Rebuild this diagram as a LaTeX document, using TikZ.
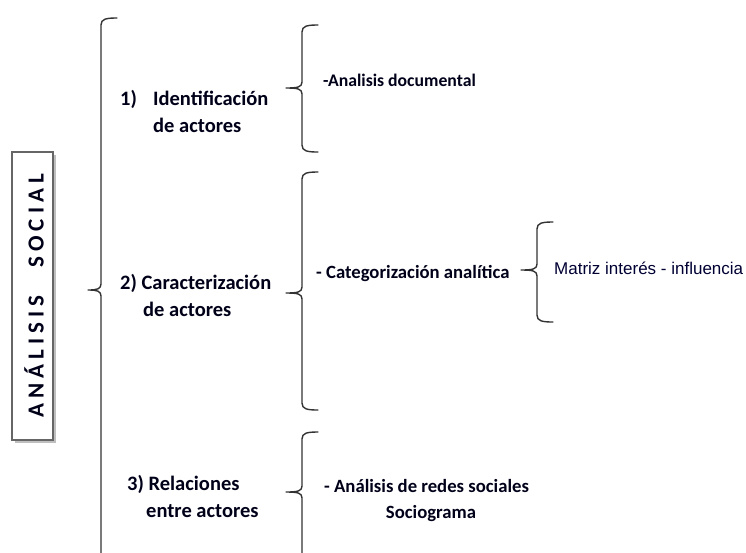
\documentclass[tikz,border=0pt]{standalone}
\usepackage{fontspec}
\setmainfont{Carlito}
\newfontfamily\arialfont{Liberation Sans}
\newfontfamily\spacedfont[LetterSpace=22]{Carlito}
\begin{document}
\begin{tikzpicture}[x=1pt,y=-1pt,
  ink/.style={draw=black!80, line width=1.4pt, line cap=round, line join=round},
  lbl/.style={inner sep=0pt, anchor=base west, text=black!90!blue, font=\bfseries\fontsize{20.5}{24}\selectfont},
  sub/.style={lbl, font=\bfseries\fontsize{18.7}{22}\selectfont},
  boxstyle/.style={draw=black!60, line width=1.3pt}]
\useasboundingbox (0,0) rectangle (746,552);

% curly brace: spine x, top y, tip y, bottom y
\newcommand{\curly}[4]{%
  \draw[ink] (#1+16,#2) .. controls (#1+5,#2) and (#1,#2+1) .. (#1,#2+7)
     -- (#1,#3-6) .. controls (#1,#3-1) and (#1-4,#3) .. (#1-16,#3)
     .. controls (#1-4,#3) and (#1,#3+1) .. (#1,#3+6)
     -- (#1,#4-7) .. controls (#1,#4-1) and (#1+5,#4) .. (#1+16,#4);}

% title box
\fill[black!25] (15,155) rectangle (56,443);
\fill[white] (12,152) rectangle (53,440);
\draw[boxstyle] (12,152) rectangle (53,440);
\node[rotate=90, inner sep=0pt, font=\spacedfont\bfseries\fontsize{23}{26}\selectfont, text=black!90!blue] (title) at (34,296) {ANÁLISIS\hspace{28pt}SOCIAL};

% main bracket
\draw[ink] (117,18) .. controls (106,18) and (101,19) .. (101,25)
   -- (101,284) .. controls (101,289) and (97,290) .. (88,290)
   .. controls (97,290) and (101,291) .. (101,296) -- (101,560);

% first level
\node[lbl] (n1) at (120,105) {1)};
\node[lbl] (id1) at (153,105) {Identificación};
\node[lbl] (id2) at (153,132) {de actores};
\node[lbl] (car1) at (120,289) {2) Caracterización};
\node[lbl] (car2) at (143,316) {de actores};
\node[lbl] (rel1) at (127,490) {3) Relaciones};
\node[lbl] (rel2) at (146,517) {entre actores};

% second level braces
\curly{302}{25}{88}{152}
\curly{302}{172}{293}{410}
\draw[ink] (318,432) .. controls (307,432) and (302,433) .. (302,439)
   -- (302,486) .. controls (302,491) and (298,492) .. (286,492)
   .. controls (298,492) and (302,493) .. (302,498) -- (302,560);

% second level texts
\node[lbl, font=\bfseries\fontsize{17.7}{21}\selectfont] (doc) at (323,86) {-Analisis documental};
\node[sub] (cat) at (316,278) {- Categorización analítica};
\node[sub] (red) at (324,492) {- Análisis de redes sociales};
\node[sub, anchor=base] (soc) at (431,518) {Sociograma};

% third level
\curly{537}{222}{270}{322}
\node[inner sep=0pt, anchor=base west, text=black!80!blue, font=\arialfont\fontsize{17}{20}\selectfont] (mat) at (554,274) {Matriz interés - influencia};
\end{tikzpicture}
\end{document}
